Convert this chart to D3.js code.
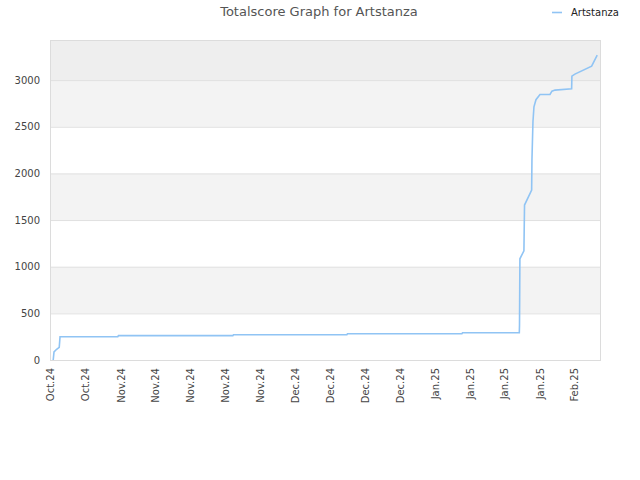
<!DOCTYPE html>
<html>
<head>
<meta charset="utf-8">
<script src="https://cdn.jsdelivr.net/npm/d3@7"></script>
<style>
  body { margin: 0; background: #fff; }
  text { font-family: "DejaVu Sans", sans-serif; }
</style>
</head>
<body>
<div id="chart"></div>
<script>
// score history
var scoreDates = [
  "2024-10-18T02:00", "2024-10-18T06:00", "2024-10-18T19:00", "2024-10-19T08:00", "2024-10-19T12:00",
  "2024-10-31T12:00", "2024-10-31T15:00", "2024-11-24T09:00", "2024-11-24T12:00",
  "2024-12-18T01:00", "2024-12-18T04:00", "2025-01-10T22:00", "2025-01-11T01:00",
  "2025-01-22T20:00", "2025-01-22T21:00", "2025-01-22T23:00", "2025-01-23T19:00", "2025-01-23T22:00",
  "2025-01-25T09:30", "2025-01-25T11:00", "2025-01-25T16:00", "2025-01-25T21:00", "2025-01-26T07:00",
  "2025-01-27T03:00", "2025-01-29T05:00", "2025-01-29T14:30", "2025-01-30T06:00",
  "2025-02-02T16:40", "2025-02-02T18:00", "2025-02-03T09:00", "2025-02-06T20:20", "2025-02-08T00:10"
];
var scoreValues = [
  0, 86, 115, 136, 250,
  250, 261, 261, 271,
  271, 281, 281, 292,
  292, 375, 1085, 1171, 1661,
  1821, 2143, 2554, 2714, 2790,
  2846, 2846, 2882, 2893,
  2907, 3043, 3064, 3150, 3268
];

// axis ticks
var tickDates = [
  "2024-10-17T12:00", "2024-10-24T18:00", "2024-11-01T02:00", "2024-11-08T06:00",
  "2024-11-15T12:00", "2024-11-22T18:00", "2024-11-30T02:00", "2024-12-07T06:00",
  "2024-12-14T12:00", "2024-12-21T18:00", "2024-12-29T02:00", "2025-01-05T06:00",
  "2025-01-12T12:00", "2025-01-19T18:00", "2025-01-27T02:00", "2025-02-03T06:00"
];
var yTicks = [0, 500, 1000, 1500, 2000, 2500, 3000];

var playerName = "Artstanza";

var parse = d3.timeParse("%Y-%m-%dT%H:%M");

var margin = {top: 40, right: 40, bottom: 120, left: 50};
var width = 640 - margin.left - margin.right,
    height = 480 - margin.top - margin.bottom;

var svg = d3.select("#chart").append("svg")
    .attr("width", 640)
    .attr("height", 480);

var g = svg.append("g")
    .attr("transform", "translate(" + margin.left + "," + margin.top + ")");

var x = d3.scaleTime()
    .domain([parse("2024-10-17T10:00"), parse("2025-02-08T14:00")])
    .range([0, width]);

var y = d3.scaleLinear()
    .domain([0, 3430])
    .range([height, 0]);

// alternating background bands
var bands = yTicks.map(function (t, i) {
  return {lo: t, hi: i + 1 < yTicks.length ? yTicks[i + 1] : y.domain()[1], i: i};
});
g.selectAll(".band")
    .data(bands)
    .enter().append("rect")
    .attr("class", "band")
    .attr("x", 0)
    .attr("width", width)
    .attr("y", function (d) { return y(d.hi); })
    .attr("height", function (d) { return y(d.lo) - y(d.hi); })
    .style("fill", function (d) {
      if (d.i == yTicks.length - 1) return "#eeeeee";
      return d.i % 2 ? "#f3f3f3" : "#ffffff";
    });

// grid lines
g.selectAll(".grid")
    .data(yTicks.slice(1))
    .enter().append("line")
    .attr("x1", 0).attr("x2", width)
    .attr("y1", function (d) { return y(d) + 0.5; })
    .attr("y2", function (d) { return y(d) + 0.5; })
    .style("stroke", "#e0e0e0");

// frame
g.append("rect")
    .attr("x", 0.5).attr("y", 0.5)
    .attr("width", width).attr("height", height)
    .style("fill", "none")
    .style("stroke", "#dcdcdc");

// y axis
var yAxis = d3.axisLeft(y).tickValues(yTicks).tickFormat(d3.format("d")).tickSize(0).tickPadding(10);
var gy = g.append("g").call(yAxis);
gy.select(".domain").remove();
gy.selectAll("text")
    .style("font-size", "10px")
    .style("fill", "#444");

// x axis
var xAxis = d3.axisBottom(x)
    .tickValues(tickDates.map(parse))
    .tickFormat(d3.timeFormat("%b.%y"))
    .tickSize(0);
var gx = g.append("g")
    .attr("transform", "translate(0," + height + ")")
    .call(xAxis);
gx.select(".domain").remove();
gx.selectAll("text")
    .attr("transform", "rotate(-90)")
    .attr("text-anchor", "end")
    .attr("x", -8)
    .attr("y", 0)
    .attr("dy", "0.35em")
    .style("font-size", "10px")
    .style("fill", "#444");

// score line
var pts = scoreDates.map(function (d, i) {
  return {date: parse(d), value: scoreValues[i]};
});
var line = d3.line()
    .x(function (d) { return x(d.date); })
    .y(function (d) { return y(d.value); });

g.append("path")
    .datum(pts)
    .attr("d", line)
    .style("fill", "none")
    .style("stroke", "#90c4f4")
    .style("stroke-width", 1.6);

// title
svg.append("text")
    .attr("x", 319)
    .attr("y", 16)
    .attr("text-anchor", "middle")
    .style("font-size", "13px")
    .style("fill", "#555")
    .text("Totalscore Graph for " + playerName);

// legend
svg.append("line")
    .attr("x1", 552).attr("x2", 562)
    .attr("y1", 12.5).attr("y2", 12.5)
    .style("stroke", "#90c4f4")
    .style("stroke-width", 1.6);
svg.append("text")
    .attr("x", 571)
    .attr("y", 16)
    .style("font-size", "10px")
    .style("fill", "#222")
    .text(playerName);
</script>
</body>
</html>
